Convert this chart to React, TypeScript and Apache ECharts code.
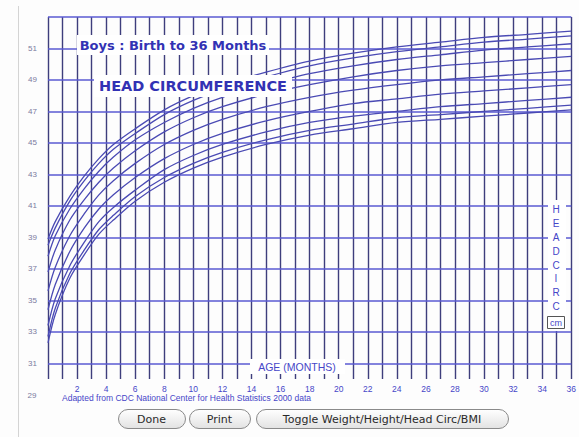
import React, { useEffect, useRef } from "react";
import * as echarts from "echarts";

const months = [0, 0.5, 1.5, 2.5, 3.5, 4.5, 6, 8, 10, 12, 15, 18, 21, 24, 27, 30, 33, 36];
const p3 = [32.3, 34.1, 36.4, 37.9, 39.2, 40.1, 41.3, 42.5, 43.4, 44.1, 44.9, 45.5, 45.9, 46.3, 46.5, 46.7, 46.9, 47.1];
const p5 = [32.7, 34.5, 36.7, 38.2, 39.5, 40.4, 41.6, 42.8, 43.7, 44.4, 45.2, 45.8, 46.2, 46.6, 46.8, 47.0, 47.2, 47.4];
const p10 = [33.4, 35.1, 37.2, 38.7, 40.0, 40.9, 42.0, 43.3, 44.2, 44.9, 45.7, 46.3, 46.7, 47.0, 47.3, 47.5, 47.7, 47.9];
const p25 = [34.4, 36.0, 38.1, 39.6, 40.8, 41.7, 42.8, 44.0, 44.9, 45.6, 46.4, 47.0, 47.5, 47.8, 48.1, 48.3, 48.5, 48.7];
const p50 = [35.6, 37.1, 39.1, 40.5, 41.7, 42.6, 43.7, 44.9, 45.8, 46.5, 47.3, 47.9, 48.35, 48.7, 49.0, 49.2, 49.4, 49.6];
const p75 = [36.8, 38.2, 40.1, 41.4, 42.5, 43.4, 44.5, 45.7, 46.6, 47.3, 48.1, 48.7, 49.2, 49.6, 49.9, 50.1, 50.3, 50.5];
const p90 = [37.8, 39.1, 40.8, 42.1, 43.2, 44.1, 45.2, 46.3, 47.2, 47.9, 48.7, 49.4, 49.9, 50.3, 50.6, 50.9, 51.1, 51.3];
const p95 = [38.5, 39.6, 41.3, 42.6, 43.7, 44.6, 45.6, 46.8, 47.7, 48.4, 49.2, 49.9, 50.4, 50.8, 51.1, 51.4, 51.6, 51.8];
const p97 = [38.9, 40.0, 41.6, 42.9, 44.0, 44.9, 45.9, 47.1, 48.0, 48.7, 49.5, 50.2, 50.7, 51.1, 51.4, 51.7, 51.9, 52.1];
const percentileNames = ["P3", "P5", "P10", "P25", "P50", "P75", "P90", "P95", "P97"];
const percentiles = [p3, p5, p10, p25, p50, p75, p90, p95, p97];

const yGridLines = [31, 33, 35, 37, 39, 41, 43, 45, 47, 49, 51, 53];
const yExtraLabel = "29";
const xLabelStep = 2;

const title1 = "Boys : Birth to 36 Months";
const title2 = "HEAD CIRCUMFERENCE";
const xName = "AGE (MONTHS)";
const yNameLetters = ["H", "E", "A", "D", "C", "I", "R", "C"];
const yUnit = "cm";
const footer = "Adapted from CDC National Center for Health Statistics 2000 data";
const buttons = ["Done", "Print", "Toggle Weight/Height/Head Circ/BMI"];

const BLUE = "#3232b4";

export default function App() {
  const ref = useRef<HTMLDivElement>(null);
  useEffect(() => {
    if (!ref.current) return;
    const chart = echarts.init(ref.current, null, { renderer: "svg" });
    const btnBoxes = [
      [118, 185],
      [189, 250],
      [256, 508],
    ];
    const graphic: any[] = [
      { type: "line", z: 100, shape: { x1: 18.5, y1: 6, x2: 18.5, y2: 437 }, style: { stroke: "#d4d4d4", lineWidth: 1 } },
      { type: "rect", z: 100, shape: { x: 77, y: 35, width: 192, height: 20 }, style: { fill: "#fff" } },
      { type: "text", z: 101, x: 173, y: 45, style: { text: title1, fill: BLUE, font: "bold 13px 'DejaVu Sans'", align: "center", verticalAlign: "middle" } },
      { type: "rect", z: 100, shape: { x: 94, y: 75, width: 198, height: 22 }, style: { fill: "#fff" } },
      { type: "text", z: 101, x: 193, y: 86, style: { text: title2, fill: BLUE, font: "bold 14.5px 'DejaVu Sans'", align: "center", verticalAlign: "middle" } },
      { type: "rect", z: 100, shape: { x: 250, y: 359, width: 95, height: 15 }, style: { fill: "#fff" } },
      { type: "text", z: 101, x: 297, y: 367, style: { text: xName, fill: "#4646c8", font: "10.5px 'Liberation Sans'", align: "center", verticalAlign: "middle" } },
      { type: "rect", z: 100, shape: { x: 548, y: 200, width: 18, height: 131 }, style: { fill: "#fff" } },
      { type: "text", z: 101, x: 556, y: 203, style: { text: yNameLetters.join("\n"), fill: "#4646c8", font: "10px 'Liberation Sans'", lineHeight: 13.8, align: "center", verticalAlign: "top" } },
      { type: "rect", z: 101, shape: { x: 547.5, y: 316.5, width: 17, height: 12 }, style: { fill: "#fff", stroke: "#555", lineWidth: 1 } },
      { type: "text", z: 102, x: 556, y: 323, style: { text: yUnit, fill: "#4646c8", font: "9px 'Liberation Sans'", align: "center", verticalAlign: "middle" } },
      { type: "text", z: 101, x: 32, y: 395, style: { text: yExtraLabel, fill: "#7a7aa0", font: "8px 'Liberation Sans'", align: "center", verticalAlign: "middle" } },
      { type: "text", z: 101, x: 62, y: 398, style: { text: footer, fill: "#4646c8", font: "8.5px 'Liberation Sans'", align: "left", verticalAlign: "middle" } },
    ];
    buttons.forEach((b, i) => {
      const [l, r] = btnBoxes[i];
      graphic.push({
        type: "rect", z: 100,
        shape: { x: l + 0.5, y: 409.5, width: r - l, height: 19, r: 9.5 },
        style: {
          fill: new echarts.graphic.LinearGradient(0, 0, 0, 1, [
            { offset: 0, color: "#ffffff" },
            { offset: 1, color: "#e2e2e2" },
          ]),
          stroke: "#8a8a8a", lineWidth: 1,
        },
      });
      graphic.push({
        type: "text", z: 101, x: (l + r) / 2, y: 419.5,
        style: { text: b, fill: "#2a2a2a", font: "11px 'DejaVu Sans'", align: "center", verticalAlign: "middle" },
      });
    });

    const series: any[] = percentiles.map((vals, i) => ({
      name: percentileNames[i],
      type: "line",
      data: months.map((m, j) => [m, vals[j]]),
      showSymbol: false,
      smooth: 0.3,
      lineStyle: { color: "#4a4ab4", width: 1.3 },
      z: 5,
    }));
    series.push({
      name: "grid",
      type: "line",
      data: [],
      z: 3,
      markLine: {
        silent: true,
        symbol: "none",
        label: { show: false },
        lineStyle: { color: "#5a5ad2", width: 1.6, type: "solid" },
        data: yGridLines.map((v) => ({ yAxis: v })),
      },
    });

    chart.setOption({
      animation: false,
      backgroundColor: "#fdfdfd",
      textStyle: { fontFamily: "Liberation Sans" },
      grid: { left: 48, right: 4, top: 17, bottom: 58, containLabel: false },
      xAxis: {
        type: "value",
        min: 0,
        max: 36,
        interval: 1,
        axisLine: { show: false },
        axisTick: { show: false },
        axisLabel: {
          color: "#4646c8",
          fontSize: 8.5,
          margin: 5,
          formatter: (v: number) => (v > 0 && v % xLabelStep === 0 ? String(v) : ""),
        },
        splitLine: { show: true, lineStyle: { color: "#3e3e7c", width: 1.4 } },
      },
      yAxis: {
        type: "value",
        min: 30,
        max: 53,
        interval: 1,
        axisLine: { show: false },
        axisTick: { show: false },
        axisLabel: {
          color: "#7a7aa0",
          fontSize: 8,
          margin: 11,
          formatter: (v: number) => (yGridLines.includes(v) && v < 53 ? String(v) : ""),
        },
        splitLine: { show: false },
      },
      series,
      graphic,
    });
    return () => chart.dispose();
  }, []);
  return <div ref={ref} style={{ position: "fixed", left: 0, top: 0, width: 579, height: 437 }} />;
}
